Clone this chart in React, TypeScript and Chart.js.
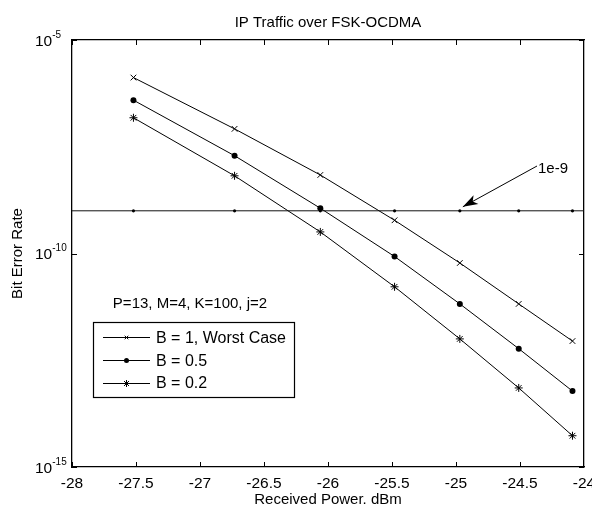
import React, { useEffect, useRef } from 'react';
import { Chart, registerables } from 'chart.js';

Chart.register(...registerables);

// ---- data ----
const powerDbm = [-27.52, -26.73, -26.06, -25.48, -24.97, -24.51, -24.09];
const berWorst = [1.32e-6, 8.3e-8, 6.9e-9, 6.0e-10, 6.0e-11, 6.6e-12, 8.9e-13];
const berHalf = [3.9e-7, 1.95e-8, 1.15e-9, 8.5e-11, 6.6e-12, 5.9e-13, 6.0e-14];
const berFifth = [1.51e-7, 6.6e-9, 3.2e-10, 1.66e-11, 1.0e-12, 7.1e-14, 5.4e-15];
const thresholdBer = 1e-9;
const xMin = -28;
const xMax = -24;
const xStep = 0.5;
const yMinExp = -15;
const yMaxExp = -5;
const yTickExps = [-5, -10, -15];
const seriesLabels = ['B = 1, Worst Case', 'B = 0.5', 'B = 0.2'];
const titleText = 'IP Traffic over FSK-OCDMA';
const xTitleText = 'Received Power. dBm';
const yTitleText = 'Bit Error Rate';
const paramText = 'P=13, M=4, K=100, j=2';
const thresholdText = '1e-9';

const FONT = '"Liberation Sans", Arial, Helvetica, sans-serif';
const W = 592;
const H = 507;

const pts = (ys: number[]) => powerDbm.map((x, i) => ({ x, y: ys[i] }));

function drawMarker(ctx: CanvasRenderingContext2D, style: string, x: number, y: number, r: number) {
  ctx.save();
  ctx.strokeStyle = '#000';
  ctx.fillStyle = '#000';
  ctx.lineWidth = 1;
  ctx.beginPath();
  if (style === 'circle') {
    ctx.arc(x, y, r, 0, Math.PI * 2);
    ctx.fill();
  } else if (style === 'crossRot') {
    const d = r * Math.SQRT1_2;
    ctx.moveTo(x - d, y - d); ctx.lineTo(x + d, y + d);
    ctx.moveTo(x - d, y + d); ctx.lineTo(x + d, y - d);
    ctx.stroke();
  } else if (style === 'star') {
    const d = r * Math.SQRT1_2;
    ctx.moveTo(x - r, y); ctx.lineTo(x + r, y);
    ctx.moveTo(x, y - r); ctx.lineTo(x, y + r);
    ctx.moveTo(x - d, y - d); ctx.lineTo(x + d, y + d);
    ctx.moveTo(x - d, y + d); ctx.lineTo(x + d, y - d);
    ctx.stroke();
  }
  ctx.restore();
}

const decorPlugin = {
  id: 'decor',
  afterDatasetsDraw(chart: any) {
    const ctx: CanvasRenderingContext2D = chart.ctx;
    const { left, right, top, bottom } = chart.chartArea;
    const xs = chart.scales.x;
    const ys = chart.scales.y;
    const L0 = Math.round(left);
    const R0 = Math.round(right) - 1;
    const T0 = Math.round(top);
    const B0 = Math.round(bottom);
    ctx.save();
    ctx.fillStyle = '#000';

    // inward ticks on x (bottom and top)
    for (let v = xMin; v <= xMax + 1e-9; v += xStep) {
      const px = Math.min(R0, Math.round(xs.getPixelForValue(v)));
      ctx.fillRect(px, B0 - 5, 1, 5);
      ctx.fillRect(px, T0, 1, 5);
    }
    // inward ticks on y (left and right)
    for (const e of yTickExps) {
      const py = Math.round(ys.getPixelForValue(Math.pow(10, e)));
      ctx.fillRect(L0, py, 5, 1);
      ctx.fillRect(R0 - 4, py, 5, 1);
    }

    // y tick labels with superscripts
    for (const e of yTickExps) {
      const py = ys.getPixelForValue(Math.pow(10, e));
      ctx.font = `15.5px ${FONT}`;
      ctx.textAlign = 'left';
      ctx.textBaseline = 'alphabetic';
      ctx.fillText('10', 35, py + 5.5);
      const w = ctx.measureText('10').width;
      ctx.font = `10px ${FONT}`;
      ctx.fillText(String(e), 35 + w, py - 2.5);
    }

    // title
    ctx.font = `15px ${FONT}`;
    ctx.textAlign = 'center';
    ctx.textBaseline = 'alphabetic';
    ctx.fillText(titleText, (left + right) / 2, 27);

    // parameter text
    ctx.fillText(paramText, 190, 308);

    // threshold annotation with arrow
    ctx.strokeStyle = '#000';
    ctx.lineWidth = 1;
    const tipX = xs.getPixelForValue(powerDbm[4]) + 3;
    const tipY = ys.getPixelForValue(thresholdBer) - 4;
    const sx = 537, sy = 166;
    ctx.textAlign = 'left';
    ctx.fillText(thresholdText, 538, 172.5);
    ctx.beginPath();
    ctx.moveTo(sx, sy);
    ctx.lineTo(tipX, tipY);
    ctx.stroke();
    const dx = tipX - sx, dy = tipY - sy;
    const len = Math.hypot(dx, dy);
    const ux = dx / len, uy = dy / len;
    const nx = -uy, ny = ux;
    const AL = 15, HW = 5;
    ctx.beginPath();
    ctx.moveTo(tipX, tipY);
    ctx.lineTo(tipX - ux * AL + nx * HW, tipY - uy * AL + ny * HW);
    ctx.lineTo(tipX - ux * AL * 0.75, tipY - uy * AL * 0.75);
    ctx.lineTo(tipX - ux * AL - nx * HW, tipY - uy * AL - ny * HW);
    ctx.closePath();
    ctx.fill();

    // legend
    const lx = 93, ly = 322, lw = 201, lh = 75;
    ctx.fillStyle = '#fff';
    ctx.fillRect(lx, ly, lw, lh);
    ctx.strokeStyle = '#000';
    ctx.lineWidth = 1.2;
    ctx.strokeRect(lx + 0.5, ly + 0.5, lw, lh);
    ctx.lineWidth = 1;
    ctx.fillStyle = '#000';
    const styles = ['crossRot', 'circle', 'star'];
    const sizes = [2.5, 2.5, 3.5];
    const rowY = [337, 360, 382.5];
    ctx.font = `16px ${FONT}`;
    ctx.textAlign = 'left';
    ctx.textBaseline = 'alphabetic';
    for (let i = 0; i < 3; i++) {
      const yy = Math.round(rowY[i]) + 0.5;
      ctx.beginPath();
      ctx.moveTo(103, yy); ctx.lineTo(150, yy);
      ctx.stroke();
      drawMarker(ctx, styles[i], 126.5, yy, sizes[i]);
      ctx.fillText(seriesLabels[i], 156, rowY[i] + 5.8);
    }
    ctx.restore();
  },
};

const frameBorder = { display: true, color: '#000', width: 1.3 };

export default function App() {
  const ref = useRef<HTMLCanvasElement>(null);
  useEffect(() => {
    if (!ref.current) return;
    const thresholdX = [xMin, ...powerDbm, xMax];
    const chart = new Chart(ref.current, {
      type: 'line',
      data: {
        datasets: [
          {
            label: '1e-9',
            data: thresholdX.map((x) => ({ x, y: thresholdBer })),
            borderColor: '#111',
            backgroundColor: '#000',
            borderWidth: 1,
            pointRadius: thresholdX.map((_, i) => (i === 0 || i === thresholdX.length - 1 ? 0 : 1.6)),
            pointStyle: 'circle',
            pointBorderWidth: 0,
          },
          {
            label: seriesLabels[0],
            data: pts(berWorst),
            borderColor: '#000',
            backgroundColor: '#000',
            borderWidth: 1,
            pointStyle: 'crossRot',
            pointRadius: 4,
            pointBorderColor: '#000',
            pointBorderWidth: 1,
          },
          {
            label: seriesLabels[1],
            data: pts(berHalf),
            borderColor: '#000',
            backgroundColor: '#000',
            borderWidth: 1,
            pointStyle: 'circle',
            pointRadius: 3,
            pointBorderWidth: 0,
          },
          {
            label: seriesLabels[2],
            data: pts(berFifth),
            borderColor: '#000',
            backgroundColor: '#000',
            borderWidth: 1,
            pointStyle: 'star',
            pointRadius: 4,
            pointBorderColor: '#000',
            pointBorderWidth: 1,
          },
        ],
      },
      options: {
        responsive: false,
        animation: false,
        events: [],
        layout: { padding: { top: 40, right: 8, left: 0, bottom: 0 } },
        plugins: { legend: { display: false }, title: { display: false }, tooltip: { enabled: false } },
        elements: { line: { tension: 0 } },
        scales: {
          x: {
            type: 'linear',
            position: 'bottom',
            min: xMin,
            max: xMax,
            ticks: {
              stepSize: xStep,
              color: '#000',
              font: { size: 15.5, family: FONT },
              padding: 7,
              maxRotation: 0,
              autoSkip: false,
              callback: (v: any) => String(Number(Number(v).toFixed(2))),
            },
            grid: { display: false, drawTicks: false },
            border: frameBorder,
            title: {
              display: true,
              text: xTitleText,
              color: '#000',
              font: { size: 15, family: FONT },
              padding: { top: 0, bottom: -2 },
            },
            afterFit: (s: any) => {
              s.height = 40;
              s.paddingLeft = 0;
              s.paddingRight = 0;
            },
          },
          xTop: {
            type: 'linear',
            position: 'top',
            min: xMin,
            max: xMax,
            ticks: { display: false },
            grid: { display: false, drawTicks: false },
            border: frameBorder,
            afterFit: (s: any) => {
              s.height = 0;
              s.paddingLeft = 0;
              s.paddingRight = 0;
            },
          },
          y: {
            type: 'logarithmic',
            position: 'left',
            min: Math.pow(10, yMinExp),
            max: Math.pow(10, yMaxExp),
            ticks: { display: false },
            grid: { display: false, drawTicks: false },
            border: frameBorder,
            title: {
              display: true,
              text: yTitleText,
              color: '#000',
              font: { size: 15, family: FONT },
              padding: { top: 8.5, bottom: 0 },
            },
            afterFit: (s: any) => {
              s.width = 72;
              s.paddingTop = 0;
              s.paddingBottom = 0;
            },
          },
          yRight: {
            type: 'logarithmic',
            position: 'right',
            min: Math.pow(10, yMinExp),
            max: Math.pow(10, yMaxExp),
            ticks: { display: false },
            grid: { display: false, drawTicks: false },
            border: frameBorder,
            afterFit: (s: any) => {
              s.width = 0;
              s.paddingTop = 0;
              s.paddingBottom = 0;
            },
          },
        },
      } as any,
      plugins: [decorPlugin],
    });
    return () => chart.destroy();
  }, []);
  return (
    <div style={{ position: 'absolute', left: 0, top: 0, width: W, height: H, background: '#fff' }}>
      <canvas ref={ref} width={W} height={H} style={{ display: 'block' }} />
    </div>
  );
}
